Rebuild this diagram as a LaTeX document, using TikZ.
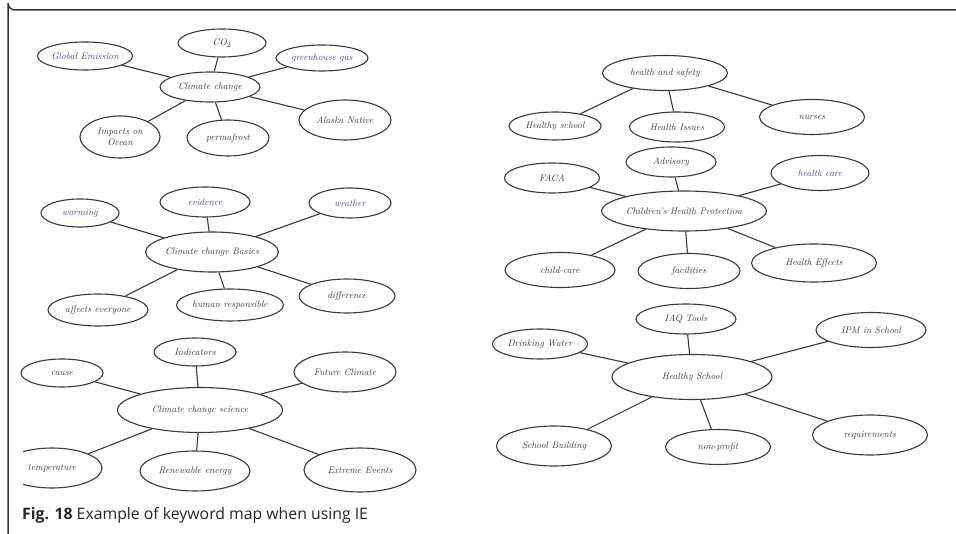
\documentclass[tikz,border=0pt]{standalone}
\usepackage{fontspec}
\newfontfamily\capfont{Open Sans}
\usetikzlibrary{shapes.geometric}
\definecolor{ink}{HTML}{3A3A3A}
\definecolor{blueink}{HTML}{4A4A86}
\definecolor{frame}{HTML}{333333}
\tikzset{
  kw/.style={ellipse, draw=ink, line width=1.1pt, inner sep=0pt, text=ink,
    font=\itshape\fontsize{9.5}{10.5}\selectfont, align=center},
  bk/.style={kw, text=blueink},
  link/.style={draw=ink, line width=1.1pt},
}
\begin{document}
\begin{tikzpicture}[x=1pt,y=-1pt]
\useasboundingbox (0,0) rectangle (956,534);
\fill[white] (0,0) rectangle (956,534);
% frame
\draw[frame, line width=1.5pt] (956,10) -- (15,10) arc[start angle=90, end angle=180, radius=7] -- (8,534);
\node[anchor=base west, inner sep=0pt, font=\capfont\fontsize{15.8}{17}\selectfont, text=black!85] (cap) at (22,519) {\textbf{Fig. 18} Example of keyword map when using IE};

% ---- cluster 1
\node[kw, minimum width=100, minimum height=30] (c1) at (210,87) {Climate change};
\node[bk, minimum width=95, minimum height=28] (c1a) at (85,56) {Global Emission};
\node[kw, minimum width=88, minimum height=28] (c1b) at (222,43) {CO$_2$};
\node[bk, minimum width=92, minimum height=26] (c1c) at (322,58) {greenhouse gas};
\node[kw, minimum width=80, minimum height=42] (c1d) at (120,137) {Impacts on\\ Ocean};
\node[kw, minimum width=82, minimum height=36] (c1e) at (228,138) {permafrost};
\node[kw, minimum width=92, minimum height=40] (c1f) at (345,120) {Alaska Native};
\foreach \t in {c1a,c1b,c1c,c1d,c1e,c1f} \draw[link] (c1) -- (\t);

% ---- cluster 2
\node[kw, minimum width=122, minimum height=40] (c2) at (212,252) {Climate change Basics};
\node[bk, minimum width=78, minimum height=28] (c2a) at (80,213) {warming};
\node[bk, minimum width=90, minimum height=30] (c2b) at (205,202) {evidence};
\node[bk, minimum width=82, minimum height=30] (c2c) at (350,203) {weather};
\node[kw, minimum width=100, minimum height=32] (c2d) at (98,310) {affects everyone};
\node[kw, minimum width=98, minimum height=32] (c2e) at (230,305) {human responsible};
\node[kw, minimum width=96, minimum height=34] (c2f) at (347,296) {difference};
\foreach \t in {c2a,c2b,c2c,c2d,c2e,c2f} \draw[link] (c2) -- (\t);

% ---- cluster 3
\node[kw, minimum width=165, minimum height=45] (c3) at (200,410) {Climate change science};
\node[kw, minimum width=82, minimum height=28] (c3a) at (62,373) {cause};
\node[kw, minimum width=82, minimum height=28] (c3b) at (195,352) {Indicators};
\node[kw, minimum width=102, minimum height=40] (c3c) at (345,372) {Future Climate};
\begin{scope}
  \clip (23,430) rectangle (140,500);
  \node[kw, minimum width=100, minimum height=40] (c3d) at (52,468) {temperature};
\end{scope}
\node[kw, minimum width=110, minimum height=40] (c3e) at (195,471) {Renewable energy};
\node[kw, minimum width=112, minimum height=44] (c3f) at (360,470) {Extreme Events};
\foreach \t in {c3a,c3b,c3c,c3d,c3e,c3f} \draw[link] (c3) -- (\t);

% ---- right cluster 1
\node[kw, minimum width=125, minimum height=35] (r1) at (665,73) {health and safety};
\node[kw, minimum width=92, minimum height=28] (r1a) at (555,126) {Healthy school};
\node[kw, minimum width=95, minimum height=30] (r1b) at (677,127) {Health Issues};
\node[kw, minimum width=105, minimum height=35] (r1c) at (812,117) {nurses};
\foreach \t in {r1a,r1b,r1c} \draw[link] (r1) -- (\t);

% ---- right cluster 2
\node[kw, minimum width=152, minimum height=40] (r2) at (684,211) {Children's Health Protection};
\node[kw, minimum width=95, minimum height=30] (r2a) at (552,178) {FACA};
\node[kw, minimum width=90, minimum height=30] (r2b) at (671,162) {Advisory};
\node[bk, minimum width=98, minimum height=35] (r2c) at (820,173) {health care};
\node[kw, minimum width=110, minimum height=35] (r2d) at (560,270) {child-care};
\node[kw, minimum width=102, minimum height=35] (r2e) at (689,271) {facilities};
\node[kw, minimum width=125, minimum height=38] (r2f) at (814,263) {Health Effects};
\foreach \t in {r2a,r2b,r2c,r2d,r2e,r2f} \draw[link] (r2) -- (\t);

% ---- right cluster 3
\node[kw, minimum width=160, minimum height=45] (r3) at (692,377) {Healthy School};
\node[kw, minimum width=100, minimum height=30] (r3a) at (686,319) {IAQ Tools};
\node[kw, minimum width=95, minimum height=30] (r3b) at (540,344) {Drinking Water};
\node[kw, minimum width=110, minimum height=35] (r3c) at (871,330) {IPM in School};
\node[kw, minimum width=115, minimum height=40] (r3d) at (554,446) {School Building};
\node[kw, minimum width=105, minimum height=35] (r3e) at (718,447) {non-profit};
\node[kw, minimum width=115, minimum height=40] (r3f) at (870,435) {requirements};
\foreach \t in {r3a,r3b,r3c,r3d,r3e,r3f} \draw[link] (r3) -- (\t);
\end{tikzpicture}
\end{document}
